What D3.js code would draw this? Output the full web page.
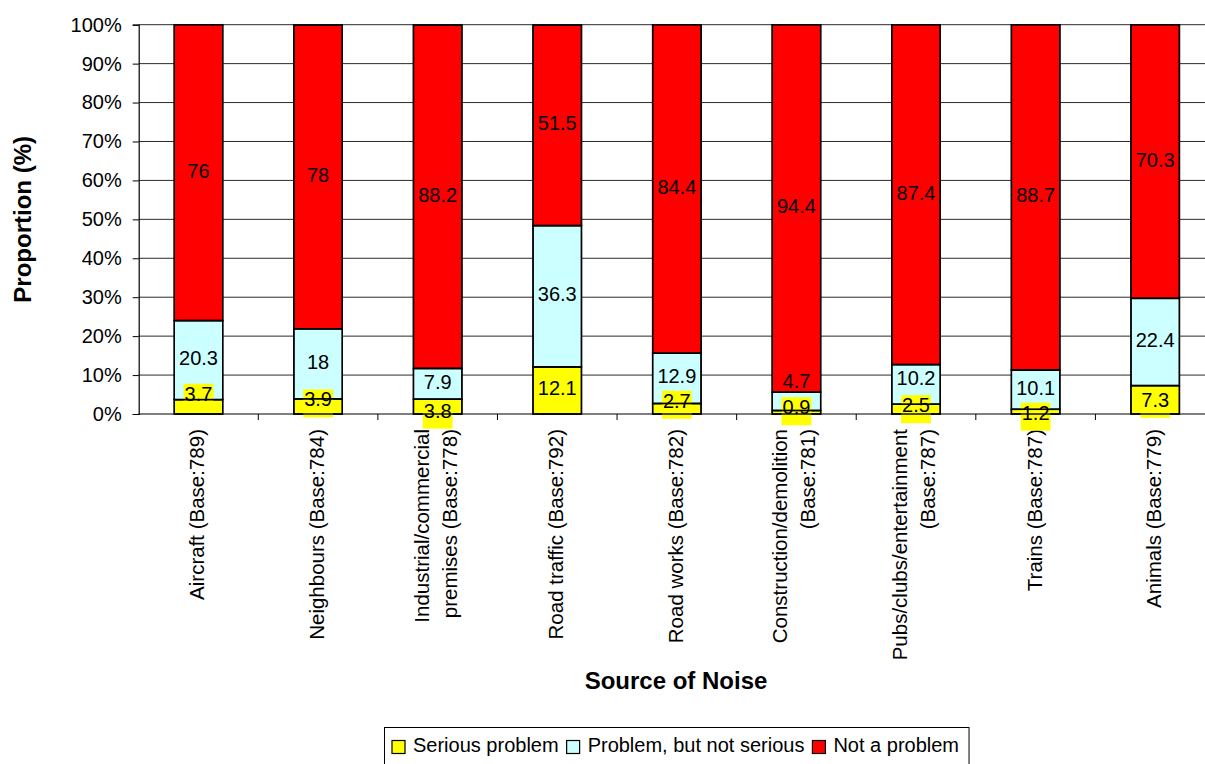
<!DOCTYPE html>
<html>
<head>
<meta charset="utf-8">
<script src="https://cdn.jsdelivr.net/npm/d3@7"></script>
<style>
  body { margin: 0; background: #fff; }
  svg { display: block; font-family: "Liberation Sans", Arial, sans-serif; }
</style>
</head>
<body>
<svg id="chart" width="1205" height="764"></svg>
<script>
// Noise sources (line breaks mark where the axis label wraps)
const categories = [
  "Aircraft (Base:789)",
  "Neighbours (Base:784)",
  "Industrial/commercial\npremises (Base:778)",
  "Road traffic (Base:792)",
  "Road works (Base:782)",
  "Construction/demolition\n(Base:781)",
  "Pubs/clubs/entertainment\n(Base:787)",
  "Trains (Base:787)",
  "Animals (Base:779)"
];
const seriesNames = ["Serious problem", "Problem, but not serious", "Not a problem"];
const seriousProblem = [3.7, 3.9, 3.8, 12.1, 2.7, 0.9, 2.5, 1.2, 7.3];
const notSerious     = [20.3, 18, 7.9, 36.3, 12.9, 4.7, 10.2, 10.1, 22.4];
const notAProblem    = [76, 78, 88.2, 51.5, 84.4, 94.4, 87.4, 88.7, 70.3];
const yTickValues = [0, 10, 20, 30, 40, 50, 60, 70, 80, 90, 100];

const seriesColors = ["#FFFF00", "#CCFFFF", "#FF0000"];

const svg = d3.select("#chart");
const margin = { left: 138.7, top: 24.7, right: 1215, bottom: 414 };

// slot scale: one slot per category (tick marks sit at slot edges)
const xSlot = d3.scaleBand().domain(categories).range([margin.left, margin.right]).padding(0);
// bar scale: narrower bands centred in each slot
const xBar = d3.scaleBand().domain(categories).range([margin.left, margin.right])
  .paddingInner(0.595).paddingOuter(0.2975);
const y = d3.scaleLinear().domain([0, 100]).range([margin.bottom, margin.top]);

// build stacked rows
const rows = categories.map((c, i) => ({
  cat: c,
  [seriesNames[0]]: seriousProblem[i],
  [seriesNames[1]]: notSerious[i],
  [seriesNames[2]]: notAProblem[i]
}));
const stacked = d3.stack().keys(seriesNames)(rows);

// gridlines
svg.append("g")
  .selectAll("line")
  .data(yTickValues.filter(v => v > 0))
  .join("line")
  .attr("x1", margin.left).attr("x2", margin.right)
  .attr("y1", d => y(d)).attr("y2", d => y(d))
  .attr("stroke", "#2a2a2a").attr("stroke-width", 1);

// y axis
const yAxis = svg.append("g")
  .attr("transform", `translate(${margin.left},0)`)
  .call(d3.axisLeft(y).tickValues(yTickValues).tickFormat(d => d + "%").tickSize(6).tickPadding(11));
yAxis.select(".domain").attr("stroke", "#000").attr("stroke-width", 1.2);
yAxis.selectAll(".tick line").attr("stroke", "#000");
yAxis.selectAll(".tick text")
  .attr("font-size", 20).attr("fill", "#000")
  .attr("font-family", "'Liberation Sans', Arial, sans-serif");

// bars
const layers = svg.append("g").selectAll("g")
  .data(stacked)
  .join("g")
  .attr("fill", (d, i) => seriesColors[i]);
layers.selectAll("rect")
  .data(d => d)
  .join("rect")
  .attr("x", d => xBar(d.data.cat))
  .attr("width", xBar.bandwidth())
  .attr("y", d => y(Math.min(d[1], 100)))
  .attr("height", d => y(d[0]) - y(Math.min(d[1], 100)))
  .attr("stroke", "#000").attr("stroke-width", 1.4);

// x axis
const xAxis = svg.append("g")
  .attr("transform", `translate(0,${margin.bottom})`);
xAxis.append("line")
  .attr("x1", margin.left).attr("x2", margin.right)
  .attr("y1", 0).attr("y2", 0)
  .attr("stroke", "#000").attr("stroke-width", 1.2);
xAxis.selectAll("line.tk")
  .data(categories)
  .join("line")
  .attr("class", "tk")
  .attr("x1", d => xSlot(d) + xSlot.bandwidth()).attr("x2", d => xSlot(d) + xSlot.bandwidth())
  .attr("y1", 0).attr("y2", 6)
  .attr("stroke", "#000");

// category labels, rotated, reading bottom to top
const catLabels = svg.append("g").selectAll("text")
  .data(categories)
  .join("text")
  .attr("transform", d => `translate(${xSlot(d) + xSlot.bandwidth() / 2},429) rotate(-90)`)
  .attr("text-anchor", "end")
  .attr("font-size", 20.5)
  .attr("fill", "#000");
catLabels.each(function (d) {
  const lines = d.split("\n");
  const n = lines.length;
  d3.select(this).selectAll("tspan")
    .data(lines)
    .join("tspan")
    .attr("x", 0)
    .attr("y", (l, i) => 6 + (i - (n - 1) / 2) * 28 - (n > 1 ? 1 : 0))
    .text(l => l);
});

// value labels: centred on each segment, a few nudged to avoid overlaps
const labelShift = {
  "0|0": -11, "0|1": -5, "0|2": 6, "0|4": -6, "0|5": -3, "0|6": -2, "0|7": 3, "0|8": 2,
  "1|5": -18, "1|6": -4
};
const labelData = [];
stacked.forEach((layer, si) => {
  layer.forEach((d, ci) => {
    const mid = (y(d[0]) + y(Math.min(d[1], 100))) / 2 - 2 + (labelShift[si + "|" + ci] || 0);
    labelData.push({ si, value: d[1] - d[0], cx: xBar(d.data.cat) + xBar.bandwidth() / 2, cy: mid });
  });
});
const fmt = v => String(Math.round(v * 10) / 10);

const labelG = svg.append("g");
const bgG = labelG.append("g");
const outlineG = labelG.append("g");
const textG = labelG.append("g");

const valueTexts = textG.selectAll("text")
  .data(labelData)
  .join("text")
  .attr("x", d => d.cx)
  .attr("y", d => d.cy + 7)
  .attr("text-anchor", "middle")
  .attr("font-size", 20)
  .attr("fill", "#000")
  .text(d => fmt(d.value));

// yellow boxes behind the "serious problem" labels
valueTexts.filter(d => d.si === 0).each(function (d) {
  const w = this.getComputedTextLength() + 2;
  bgG.append("rect")
    .attr("x", d.cx - w / 2).attr("width", w)
    .attr("y", d.cy - 10).attr("height", 28)
    .attr("fill", seriesColors[0]);
});

// bar outlines redrawn over the label boxes
outlineG.selectAll("g")
  .data(stacked)
  .join("g")
  .selectAll("rect")
  .data(d => d)
  .join("rect")
  .attr("x", d => xBar(d.data.cat))
  .attr("width", xBar.bandwidth())
  .attr("y", d => y(Math.min(d[1], 100)))
  .attr("height", d => y(d[0]) - y(Math.min(d[1], 100)))
  .attr("fill", "none")
  .attr("stroke", "#000").attr("stroke-width", 1.4);

// axis titles
svg.append("text")
  .attr("transform", `translate(31,${(margin.top + margin.bottom) / 2}) rotate(-90)`)
  .attr("text-anchor", "middle")
  .attr("font-size", 24).attr("font-weight", "bold")
  .text("Proportion (%)");
svg.append("text")
  .attr("x", 676).attr("y", 689)
  .attr("text-anchor", "middle")
  .attr("font-size", 24).attr("font-weight", "bold")
  .text("Source of Noise");

// legend
const legend = svg.append("g");
const legendBox = legend.append("rect")
  .attr("x", 384.5).attr("y", 727.5).attr("height", 40)
  .attr("fill", "#fff").attr("stroke", "#000").attr("stroke-width", 1);
let lx = 392;
seriesNames.forEach((name, i) => {
  legend.append("rect")
    .attr("x", lx).attr("y", 740.5).attr("width", 13).attr("height", 13)
    .attr("fill", seriesColors[i]).attr("stroke", "#000").attr("stroke-width", 1.2);
  const t = legend.append("text")
    .attr("x", lx + 21).attr("y", 751.7)
    .attr("font-size", 20).attr("fill", "#000")
    .text(name);
  lx = lx + 21 + t.node().getComputedTextLength() + 8;
});
legendBox.attr("width", lx - 384.5 + 2);
</script>
</body>
</html>
